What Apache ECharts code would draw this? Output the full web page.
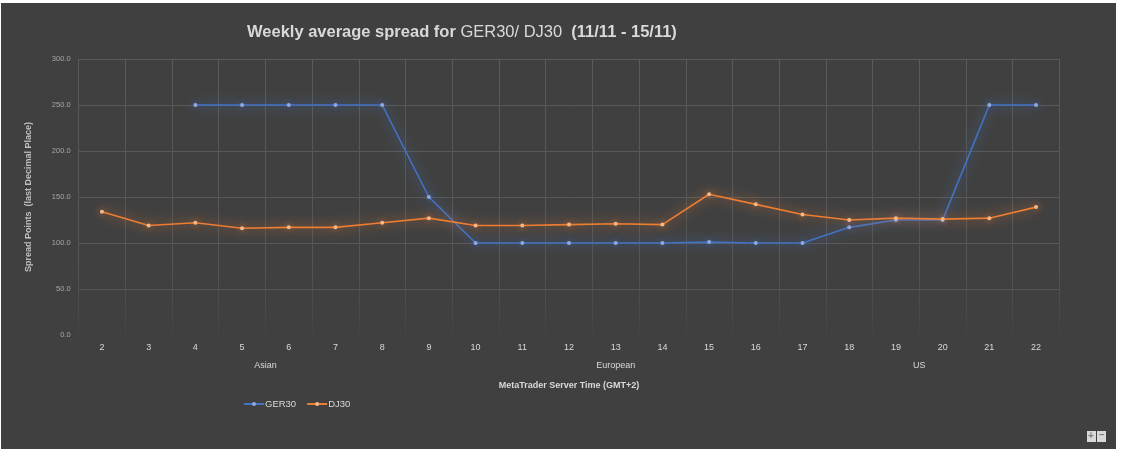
<!DOCTYPE html>
<html>
<head>
<meta charset="utf-8">
<script src="https://cdn.jsdelivr.net/npm/echarts@6/dist/echarts.min.js"></script>
<style>
html,body{margin:0;padding:0;background:#ffffff;}
#chart{width:1121px;height:454px;}
</style>
</head>
<body>
<div id="chart"></div>
<script>
// ---- data ----
var hours = ['2','3','4','5','6','7','8','9','10','11','12','13','14','15','16','17','18','19','20','21','22'];
var ger30 = [null, null, 250, 250, 250, 250, 250, 150, 100, 100, 100, 100, 100, 101, 100, 100, 117, 125, 125, 250, 250];
var dj30  = [134, 119, 122, 116, 117, 117, 122, 127, 119, 119, 120, 121, 120, 153, 142, 131, 125, 127, 126, 127, 139];
var sessions = ['Asian', 'European', 'US'];
var sessionSizes = [8, 7, 6];
var yTicks = [0, 50, 100, 150, 200, 250, 300];

// session label centres (in category units)
var sessionCentres = {};
var acc = 0;
for (var i = 0; i < sessions.length; i++) {
  sessionCentres[(acc + sessionSizes[i] / 2).toFixed(1)] = sessions[i];
  acc += sessionSizes[i];
}

var FONT = 'Liberation Sans';
var chart = echarts.init(document.getElementById('chart'), null, {renderer: 'canvas'});

var option = {
  backgroundColor: '#ffffff',
  animation: false,
  textStyle: {fontFamily: FONT},
  graphic: [
    {type: 'rect', left: 1, top: 3, shape: {width: 1115, height: 446}, style: {fill: '#404040'}, z: -10, silent: true},
    {type: 'rect', left: 1087, top: 431, shape: {width: 9, height: 11}, style: {fill: '#d9d9d9'}, z: 10},
    {type: 'text', left: 1088, top: 431, style: {text: '+', fill: '#808080', font: 'bold 10px ' + FONT}, z: 11},
    {type: 'rect', left: 1097, top: 431, shape: {width: 9, height: 11}, style: {fill: '#d9d9d9'}, z: 10},
    {type: 'text', left: 1099, top: 430, style: {text: '−', fill: '#808080', font: 'bold 10px ' + FONT}, z: 11}
  ],
  title: {
    left: 242,
    top: 19,
    text: '{b|Weekly average spread for }{n|GER30/ DJ30}{b|  (11/11 - 15/11)}',
    textStyle: {
      rich: {
        b: {fontSize: 16.5, fontWeight: 'bold', color: '#d9d9d9', fontFamily: FONT},
        n: {fontSize: 16.5, fontWeight: 'normal', color: '#d9d9d9', fontFamily: FONT}
      }
    }
  },
  legend: {
    left: 238,
    top: 394,
    itemWidth: 20,
    itemHeight: 5,
    itemGap: 10,
    textStyle: {color: '#d9d9d9', fontSize: 9.5, fontFamily: FONT, padding: [0, 0, 0, -4]},
    data: ['GER30', 'DJ30']
  },
  grid: {left: 78.6, right: 61.6, top: 59, bottom: 119, containLabel: false},
  xAxis: [
    {
      type: 'category',
      data: hours,
      boundaryGap: true,
      axisLine: {show: false},
      axisTick: {show: false},
      axisLabel: {color: '#d9d9d9', fontSize: 9, margin: 8, interval: 0},
      splitLine: {
        show: true,
        interval: 0,
        lineStyle: {
          width: 1,
          color: {type: 'linear', x: 0, y: 0, x2: 0, y2: 1,
            colorStops: [{offset: 0, color: '#5a5a5a'}, {offset: 0.75, color: '#555555'}, {offset: 1, color: '#434343'}]}
        }
      }
    },
    {
      type: 'value',
      position: 'bottom',
      min: 0,
      max: 21,
      interval: 0.5,
      axisLine: {show: false},
      axisTick: {show: false},
      splitLine: {show: false},
      axisLabel: {
        color: '#d9d9d9', fontSize: 9, margin: 26, showMinLabel: true, showMaxLabel: true,
        formatter: function (v) { return sessionCentres[v.toFixed(1)] || ''; }
      },
      name: 'MetaTrader Server Time (GMT+2)',
      nameLocation: 'middle',
      nameGap: 46,
      nameTextStyle: {color: '#d9d9d9', fontSize: 9, fontWeight: 'bold', fontFamily: FONT}
    }
  ],
  yAxis: {
    type: 'value',
    min: 0,
    max: 300,
    interval: 50,
    axisLine: {show: false},
    axisTick: {show: false},
    axisLabel: {color: '#a6a6a6', fontSize: 7.5, margin: 8, formatter: function (v) { return yTicks.indexOf(v) >= 0 ? v.toFixed(1) : ''; }},
    splitLine: {lineStyle: {color: ['#404040', '#555555', '#595959', '#595959', '#595959', '#595959', '#595959'], width: 1}},
    name: 'Spread Points  (last Decimal Place)',
    nameLocation: 'middle',
    nameGap: 46,
    nameRotate: 90,
    nameTextStyle: {color: '#bfbfbf', fontSize: 9, fontWeight: 'bold', fontFamily: FONT}
  },
  series: [
    {
      name: 'GER30',
      type: 'line',
      data: ger30,
      xAxisIndex: 0,
      connectNulls: false,
      symbol: 'circle',
      symbolSize: 4,
      color: '#4472c4',
      itemStyle: {color: '#8fa9e0', borderWidth: 0, shadowColor: 'rgba(68,114,196,0.9)', shadowBlur: 6},
      lineStyle: {color: '#4472c4', width: 1.6, shadowColor: 'rgba(68,114,196,1)', shadowBlur: 12},
      z: 3
    },
    {
      name: 'DJ30',
      type: 'line',
      data: dj30,
      xAxisIndex: 0,
      symbol: 'circle',
      symbolSize: 4,
      color: '#ed7d31',
      itemStyle: {color: '#f6b98c', borderWidth: 0, shadowColor: 'rgba(237,125,49,0.9)', shadowBlur: 6},
      lineStyle: {color: '#ed7d31', width: 1.6, shadowColor: 'rgba(237,125,49,1)', shadowBlur: 12},
      z: 4
    }
  ]
};
chart.setOption(option);
</script>
</body>
</html>
